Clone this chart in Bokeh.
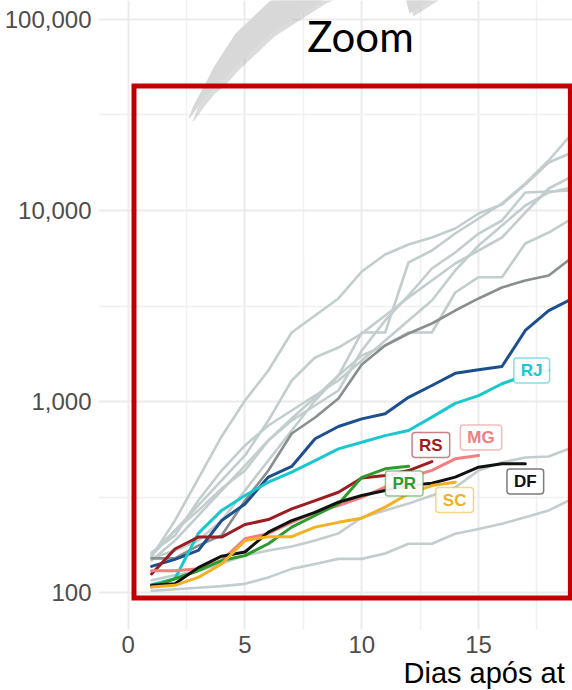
from bokeh.plotting import figure
from bokeh.models import FixedTicker, NumeralTickFormatter, Label, BoxAnnotation, Range1d
from bokeh.embed import file_html
from bokeh.resources import INLINE

# ---------------- data (cumulative cases by day after the 100th case) ----------------
dias = list(range(1, 20))

cinza_1 = [102, 104, 106, 108, 111, 120, 133, 141, 150, 150, 160, 180, 180, 203, 215, 229, 248, 269, 309]
cinza_2 = [116, 123, 130, 142, 156, 166, 174, 187, 204, 247, 269, 292, 322, 355, 435, 480, 509, 515, 574]
cinza_3 = [154, 238, 395, 656, 1012, 1453, 2298, 2820, 3463, 4793, 5884, 6637, 7222, 8049, 9646, 10749, 13681, 17840, 20127]
cinza_4 = [147, 187, 253, 342, 462, 625, 815, 1049, 1368, 2298, 2298, 5343, 6174, 7577, 9081, 10878, 13850, 18274, 25300]
cinza_5 = [156, 211, 286, 386, 522, 795, 1288, 1700, 1917, 2270, 2820, 3505, 4300, 5279, 6174, 7222, 9761, 13039, 15066]
cinza_6 = [160, 211, 269, 350, 435, 625, 795, 953, 1142, 1849, 2656, 3589, 4970, 6027, 7577, 8864, 12425, 12577, 12728]
cinza_7 = [151, 166, 187, 238, 342, 491, 705, 1012, 1368, 1741, 1965, 2298, 2298, 3721, 4475, 4475, 6717, 7669, 9081]
cinza_8 = [162, 199, 303, 435, 589, 749, 897, 1075, 1288, 1640, 2086, 2656, 3380, 4852, 6557, 8347, 10621, 12425, 13196]
cinza_escuro = [151, 151, 176, 199, 303, 435, 680, 825, 1037, 1562, 1965, 2270, 2561, 2995, 3463, 3953, 4300, 4568, 5675]
azul = [137, 149, 166, 238, 291, 402, 457, 638, 740, 811, 863, 1052, 1213, 1405, 1466, 1525, 2355, 2993, 3452]

RJ = [110, 118, 204, 269, 322, 378, 427, 490, 565, 612, 663, 705, 828, 978, 1074, 1239, 1368, 1452]
RS = [125, 169, 195, 195, 227, 241, 274, 303, 335, 398, 410, 435, 485]
MG = [130, 130, 133, 147, 191, 204, 233, 263, 285, 315, 356, 401, 436, 501, 521]
PR = [107, 118, 130, 147, 156, 180, 220, 253, 291, 401, 444, 458]
DF = [109, 111, 135, 155, 163, 207, 238, 263, 297, 322, 342, 363, 373, 402, 453, 472, 472]
SC = [107, 109, 120, 141, 187, 196, 196, 220, 233, 245, 280, 329, 363, 378]

x_ticks = [0, 5, 10, 15]
y_ticks = [100, 1000, 10000, 100000]

# value at the lower edge of the ggplot panel
painel_base = 64.03

# ---------------- figure ----------------
p = figure(width=572, height=690, y_axis_type="log",
           x_range=Range1d(-1.2714, 19.02), y_range=Range1d(30.69, 125730),
           output_backend="svg", toolbar_location=None,
           min_border_left=98, min_border_right=0, min_border_top=0, min_border_bottom=0)
p.outline_line_color = None
p.background_fill_color = "white"

p.xaxis.ticker = FixedTicker(ticks=x_ticks, minor_ticks=[2.5, 7.5, 12.5, 17.5])
p.yaxis.ticker = FixedTicker(ticks=y_ticks, minor_ticks=[316.23, 3162.3, 31623])
p.yaxis.formatter = NumeralTickFormatter(format="0,0")
for ax in (p.xaxis, p.yaxis):
    ax.axis_line_color = None
    ax.major_tick_line_color = None
    ax.minor_tick_line_color = None
    ax.major_tick_out = 0
    ax.major_tick_in = 0
    ax.minor_tick_out = 0
    ax.minor_tick_in = 0
    ax.major_label_text_font = "Liberation Sans"
    ax.major_label_text_font_size = "24px"
    ax.major_label_text_color = "#4d4d4d"
p.yaxis.major_label_standoff = 7
p.xaxis.fixed_location = painel_base
p.xaxis.major_label_standoff = 7

for g in (p.xgrid, p.ygrid):
    g.grid_line_color = "#ebebeb"
    g.grid_line_width = 2
    g.minor_grid_line_color = "#f0f0f0"
    g.minor_grid_line_width = 1.5

# white area below the panel (hides grid lines there)
p.add_layout(BoxAnnotation(top=painel_base, fill_color="white", fill_alpha=1,
                           line_color=None, level="glyph"))

# gray lines (other states)
for s in (cinza_1, cinza_2, cinza_3, cinza_4, cinza_5, cinza_6, cinza_7, cinza_8):
    p.line(dias[:len(s)], s, line_color="#c3cdcd", line_width=2.6,
           line_join="round", line_cap="round")
p.line(dias[:len(cinza_escuro)], cinza_escuro, line_color="#898e8e", line_width=2.6,
       line_join="round", line_cap="round")
p.line(dias[:len(azul)], azul, line_color="#1d4f8e", line_width=3,
       line_join="round", line_cap="round")

estados = [
    ("RJ", RJ, "#19c8cf", (-17, 0)),
    ("RS", RS, "#9b1c22", (-1, 16.5)),
    ("MG", MG, "#f08080", (2.4, 18)),
    ("PR", PR, "#2e9b2e", (-4.3, -17.3)),
    ("DF", DF, "#111111", (0, -17.7)),
    ("SC", SC, "#f2b124", (-0.6, -17.8)),
]
for nome, s, cor, _ in estados:
    p.line(dias[:len(s)], s, line_color=cor, line_width=3,
           line_join="round", line_cap="round")

for nome, s, cor, (dx, dy) in estados:
    p.add_layout(Label(x=dias[len(s) - 1], y=s[-1], x_offset=dx, y_offset=dy,
                       text=nome, text_align="center", text_baseline="middle",
                       text_font="Liberation Sans", text_font_style="bold",
                       text_font_size="17px", text_color=cor,
                       background_fill_color="white", background_fill_alpha=0.92,
                       border_line_color=cor, border_line_alpha=0.55, border_line_width=1.5,
                       padding=(7, 3), border_radius=3))

# ---------------- decorations: zoom arrow, box and texts ----------------
arrow_x = [2.581, 2.795, 3.095, 3.309, 3.652, 4.593, 6.092, 6.734,
           9.30, 8.30, 6.10, 4.55, 3.95, 3.55, 3.095, 2.667]
arrow_y = [30320, 35450, 41480, 46230, 56080, 84480, 125750, 141850,
           141850, 125750, 84480, 56080, 46230, 42500, 36320, 30690]
p.patch([x + 0.17 for x in arrow_x], [y * 0.964 for y in arrow_y],
        fill_color="#9a9a9a", fill_alpha=0.35, line_color=None)
p.patch(arrow_x, arrow_y, fill_color="#d8d8d8", line_color=None)

head_x = [11.79, 13.58, 12.04]
head_y = [141850, 141850, 107500]
p.patch([x + 0.17 for x in head_x], [y * 0.964 for y in head_y],
        fill_color="#9a9a9a", fill_alpha=0.35, line_color=None)
p.patch(head_x, head_y, fill_color="#d8d8d8", line_color=None)

p.add_layout(BoxAnnotation(left=0.248, right=18.93, bottom=93.6, top=44860,
                           fill_alpha=0, line_color="#c00000", line_alpha=1,
                           line_width=5, line_join="miter"))

p.add_layout(Label(x=9.944, y=81470, text="Zoom", text_align="center",
                   text_baseline="middle", text_font="Lato",
                   text_font_size="42px", text_color="black"))

p.add_layout(Label(x=11.785, y=38.12, text="Dias após at", text_align="left",
                   text_baseline="middle", text_font="Liberation Sans",
                   text_font_size="29px", text_color="black"))

open("out.html", "w").write(file_html(p, INLINE))
